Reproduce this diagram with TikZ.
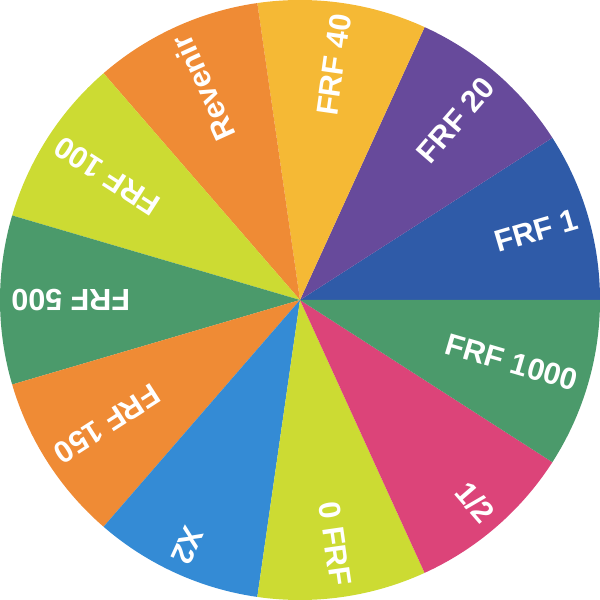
\documentclass[tikz,border=0pt]{standalone}
\usepackage{fontspec}
\setmainfont{Liberation Sans}
\newfontfamily\wheelfont{Liberation Sans Bold}
\usetikzlibrary{positioning}
\definecolor{wblue}{HTML}{2F5BA8}
\definecolor{wpurple}{HTML}{674A9B}
\definecolor{wyellow}{HTML}{F5B935}
\definecolor{worange}{HTML}{EF8B35}
\definecolor{wlime}{HTML}{CCDB33}
\definecolor{wgreen}{HTML}{4B9A6B}
\definecolor{wsky}{HTML}{348BD5}
\definecolor{wpink}{HTML}{DC4479}

\begin{document}
\begin{tikzpicture}[
        lbl/.style={text=white, font=\wheelfont\fontsize{14.5}{16}\selectfont, anchor=east, inner sep=0pt}
    ]
        \useasboundingbox (-5,-5) rectangle (5,5);

        \fill[wblue]   (0,0) -- (0:5) arc[start angle=0, end angle=32.727, radius=5] -- cycle;
        \fill[wpurple] (0,0) -- (32.727:5) arc[start angle=32.727, end angle=65.455, radius=5] -- cycle;
        \fill[wyellow] (0,0) -- (65.455:5) arc[start angle=65.455, end angle=98.182, radius=5] -- cycle;
        \fill[worange] (0,0) -- (98.182:5) arc[start angle=98.182, end angle=130.909, radius=5] -- cycle;
        \fill[wlime]   (0,0) -- (130.909:5) arc[start angle=130.909, end angle=163.636, radius=5] -- cycle;
        \fill[wgreen]  (0,0) -- (163.636:5) arc[start angle=163.636, end angle=196.364, radius=5] -- cycle;
        \fill[worange] (0,0) -- (196.364:5) arc[start angle=196.364, end angle=229.091, radius=5] -- cycle;
        \fill[wsky]    (0,0) -- (229.091:5) arc[start angle=229.091, end angle=261.818, radius=5] -- cycle;
        \fill[wlime]   (0,0) -- (261.818:5) arc[start angle=261.818, end angle=294.545, radius=5] -- cycle;
        \fill[wpink]   (0,0) -- (294.545:5) arc[start angle=294.545, end angle=327.273, radius=5] -- cycle;
        \fill[wgreen]  (0,0) -- (327.273:5) arc[start angle=327.273, end angle=360, radius=5] -- cycle;

        \node[lbl, rotate=16.364]  (frf1)    at (16.364:4.82)  {FRF 1};
        \node[lbl, rotate=49.091]  (frf20)   at (49.091:4.82)  {FRF 20};
        \node[lbl, rotate=81.818]  (frf40)   at (81.818:4.82)  {FRF 40};
        \node[lbl, rotate=114.545] (revenir) at (114.545:4.82) {Revenir};
        \node[lbl, rotate=147.273] (frf100)  at (147.273:4.82) {FRF 100};
        \node[lbl, rotate=180]     (frf500)  at (180:4.82)     {FRF 500};
        \node[lbl, rotate=212.727] (frf150)  at (212.727:4.82) {FRF 150};
        \node[lbl, rotate=245.455] (xdeux)   at (245.455:4.82) {X2};
        \node[lbl, rotate=278.182] (zero)    at (278.182:4.82) {0 FRF};
        \node[lbl, rotate=310.909] (moitie)  at (310.909:4.82) {1/2};
        \node[lbl, rotate=343.636] (frf1000) at (343.636:4.82) {FRF 1000};
    \end{tikzpicture}
\end{document}
